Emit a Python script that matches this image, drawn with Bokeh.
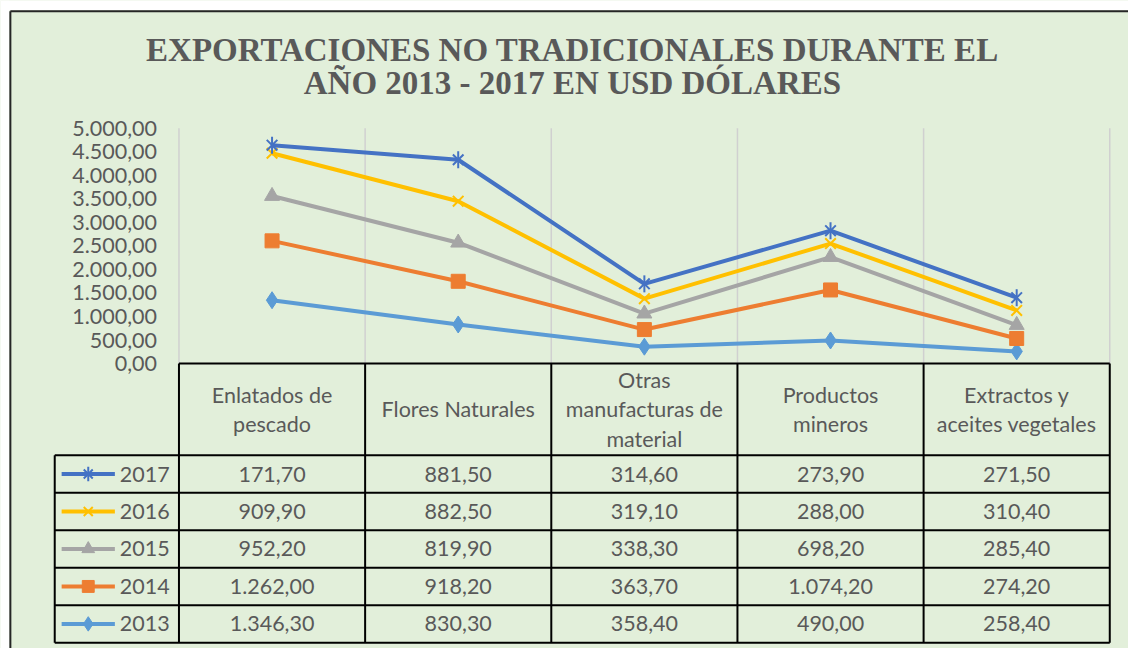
import numpy as np
from bokeh.plotting import figure
from bokeh.models import Range1d, FixedTicker
from bokeh.core.properties import value
from bokeh.embed import file_html
from bokeh.resources import INLINE

# ---------------- data ----------------
categories = ["Enlatados de\npescado", "Flores Naturales",
              "Otras\nmanufacturas de\nmaterial", "Productos\nmineros",
              "Extractos y\naceites vegetales"]
years = ["2013", "2014", "2015", "2016", "2017"]
v2013 = [1346.30, 830.30, 358.40, 490.00, 258.40]
v2014 = [1262.00, 918.20, 363.70, 1074.20, 274.20]
v2015 = [952.20, 819.90, 338.30, 698.20, 285.40]
v2016 = [909.90, 882.50, 319.10, 288.00, 310.40]
v2017 = [171.70, 881.50, 314.60, 273.90, 271.50]
yticks = [0, 500, 1000, 1500, 2000, 2500, 3000, 3500, 4000, 4500, 5000]
ytick_labels = ["0,00", "500,00", "1.000,00", "1.500,00", "2.000,00", "2.500,00",
                "3.000,00", "3.500,00", "4.000,00", "4.500,00", "5.000,00"]
title_lines = ["EXPORTACIONES NO TRADICIONALES DURANTE EL",
               "AÑO 2013 - 2017 EN USD DÓLARES"]

# ---------------- style / layout ----------------
BG = "#E2EFDA"
TXT = "#595959"
FONT = "Lato"
colors = {"2013": "#5B9BD5", "2014": "#ED7D31", "2015": "#A5A5A5",
          "2016": "#FFC000", "2017": "#4472C4"}

W, H = 1128, 648          # canvas size
RW, RH = 1144, 664        # layout grid in reference pixels
ncat = len(categories)
PLOT_L, PLOT_R = 181, 1125          # plot area (layout px)
PLOT_T, PLOT_B = 131, 372
CAT = (PLOT_R - PLOT_L) / ncat      # px per category
VAL = (PLOT_B - PLOT_T) / 5000.0    # px per value unit

series = [v2013, v2014, v2015, v2016, v2017]
stacked = np.cumsum(np.array(series), axis=0)  # stacked line chart
xs = [i + 0.5 for i in range(ncat)]


def fmt(v):
    s = f"{v:,.2f}"
    return s.replace(",", "#").replace(".", ",").replace("#", ".")


def cx(px):  # layout px -> category units
    return (px - PLOT_L) / CAT


p = figure(width=W, height=H,
           x_range=Range1d(cx(0), cx(RW)),
           y_range=Range1d((PLOT_B - RH) / VAL, PLOT_B / VAL),
           output_backend="svg", toolbar_location=None,
           x_axis_location=None, y_axis_location="left",
           min_border=0, min_border_left=0, min_border_right=0,
           min_border_top=0, min_border_bottom=0,
           background_fill_color=BG, border_fill_color=BG,
           outline_line_color=None)
p.extra_x_ranges = {"px": Range1d(0, RW)}
p.extra_y_ranges = {"px": Range1d(RH, 0)}
p.xgrid.visible = False
p.ygrid.visible = False

# y axis, drawn at the left edge of the plot area
ax = p.yaxis[0]
ax.fixed_location = 0
ax.ticker = FixedTicker(ticks=yticks)
ax.major_label_overrides = dict(zip(yticks, ytick_labels))
ax.axis_line_color = None
ax.major_tick_line_color = None
ax.minor_tick_line_color = None
ax.major_label_text_font = FONT
ax.major_label_text_font_size = "21.5px"
ax.major_label_text_color = TXT
ax.major_label_standoff = 16

# outer white margin and chart border
p.quad(left=[0, 0], right=[9, RW], top=[0, 0], bottom=[RH, 10],
       x_range_name="px", y_range_name="px", fill_color="white", line_color=None)
p.segment(x0=[10, 10], y0=[11, 11], x1=[10, RW], y1=[RH, 11],
          x_range_name="px", y_range_name="px", line_color="#262626", line_width=2)

# title
p.text(x=[580, 580], y=[51, 85], text=title_lines, x_range_name="px",
       y_range_name="px", text_align="center", text_baseline="alphabetic",
       text_font=value("Liberation Serif"), text_font_size="33px",
       text_font_style="bold", text_color=TXT)

# vertical gridlines between categories
gx = list(range(ncat + 1))
p.segment(x0=gx, y0=[0] * len(gx), x1=gx, y1=[5000] * len(gx),
          line_color="#D0D0D0", line_width=1.5)


def draw_marker(year, x, y, scale=1.0, **kw):
    c = colors[year]
    if year == "2017":
        p.scatter(x, y, marker="x", size=15 * scale, line_color=c, line_width=2, **kw)
        p.scatter(x, y, marker="dash", angle=np.pi / 2, size=17 * scale,
                  line_color=c, line_width=2, **kw)
    elif year == "2016":
        p.scatter(x, y, marker="x", size=15 * scale, line_color=c, line_width=2, **kw)
    elif year == "2015":
        p.scatter(x, y, marker="triangle", size=15 * scale, fill_color=c,
                  line_color=c, **kw)
    elif year == "2014":
        p.scatter(x, y, marker="square", size=14 * scale, fill_color=c,
                  line_color=c, **kw)
    else:
        p.scatter(x, y, marker="diamond", size=17 * scale, fill_color=c,
                  line_color=c, **kw)


for k, yr in enumerate(years):
    p.line(xs, stacked[k], line_color=colors[yr], line_width=4)
    draw_marker(yr, xs, stacked[k])

# ---------------- data table ----------------
header_top, header_bot = PLOT_B, 466
row_h = 38.4
row_years = list(reversed(years))
row_tops = [header_bot + i * row_h for i in range(len(row_years) + 1)]
row_mid = [header_bot + (i + 0.5) * row_h for i in range(len(row_years))]
leg_left = cx(55)

# header texts
p.text(x=xs, y=[(header_top + header_bot) / 2] * ncat, text=categories,
       y_range_name="px", text_align="center", text_baseline="middle",
       text_font=value(FONT), text_font_size="21.5px", text_color=TXT,
       text_line_height=1.12)

# values
vx, vy, vt = [], [], []
for r, yr in enumerate(row_years):
    vals = series[years.index(yr)]
    for i, v in enumerate(vals):
        vx.append(xs[i]); vy.append(row_mid[r]); vt.append(fmt(v))
p.text(x=vx, y=vy, text=vt, y_range_name="px", text_align="center",
       text_baseline="middle", text_font=value(FONT), text_font_size="21.5px",
       text_color=TXT)

# legend keys
for r, yr in enumerate(row_years):
    p.segment(x0=[62], y0=[row_mid[r]], x1=[116], y1=[row_mid[r]],
              x_range_name="px", y_range_name="px",
              line_color=colors[yr], line_width=4)
    draw_marker(yr, [89], [row_mid[r]], scale=0.85,
                x_range_name="px", y_range_name="px")
p.text(x=[121] * len(row_years), y=row_mid, text=row_years,
       x_range_name="px", y_range_name="px", text_align="left",
       text_baseline="middle", text_font=value(FONT), text_font_size="21.5px",
       text_color=TXT)

# table lines
p.segment(x0=[0], y0=[header_top], x1=[ncat], y1=[header_top],
          y_range_name="px", line_color="black", line_width=2)
p.segment(x0=[leg_left] * len(row_tops), y0=row_tops,
          x1=[ncat] * len(row_tops), y1=row_tops,
          y_range_name="px", line_color="black", line_width=2)
p.segment(x0=gx, y0=[header_top] * len(gx), x1=gx, y1=[row_tops[-1]] * len(gx),
          y_range_name="px", line_color="black", line_width=2)
p.segment(x0=[leg_left], y0=[header_bot], x1=[leg_left], y1=[row_tops[-1]],
          y_range_name="px", line_color="black", line_width=2)

open("out.html", "w").write(file_html(p, INLINE))
